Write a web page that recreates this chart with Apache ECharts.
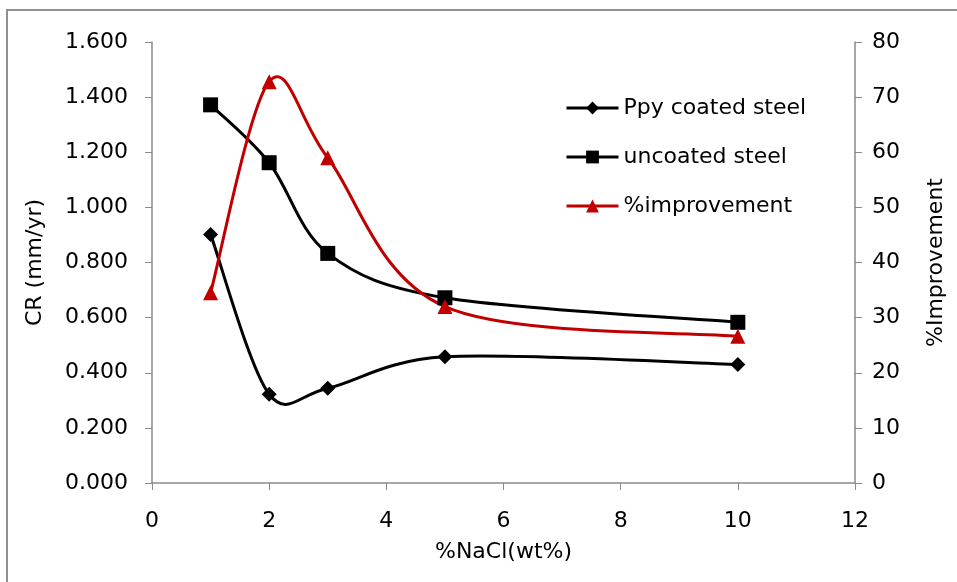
<!DOCTYPE html>
<html>
<head>
<meta charset="utf-8">
<script src="https://cdn.jsdelivr.net/npm/echarts@6/dist/echarts.min.js"></script>
<style>html,body{margin:0;padding:0;background:#fff}#c{width:957px;height:582px}</style>
</head>
<body>
<div id="c"></div>
<script>
var nacl = [1, 2, 3, 5, 10];
var ppyCoated = [0.902, 0.322, 0.344, 0.458, 0.430];
var uncoated = [1.372, 1.162, 0.833, 0.672, 0.583];
var improvement = [34.5, 72.8, 59.0, 32.0, 26.6];
var leftTicks = {min: 0, max: 1.6, interval: 0.2};
var rightTicks = {min: 0, max: 80, interval: 10};
var xTicks = {min: 0, max: 12, interval: 2};

function pairs(xs, ys) { return xs.map(function (x, i) { return [x, ys[i]]; }); }

// Excel-style smoothed curve, drawn segment by segment through the axes' scales
function smoothCurve(name, xs, ys, color, yAxisIndex) {
  return {
    name: name, type: 'custom', coordinateSystem: 'cartesian2d', yAxisIndex: yAxisIndex,
    silent: true, z: 1, data: pairs(xs, ys), encode: {x: 0, y: 1},
    renderItem: function (params, api) {
      var i = params.dataIndex, n = xs.length;
      if (i >= n - 1) return;
      function P(k) { k = Math.max(0, Math.min(n - 1, k)); return api.coord([xs[k], ys[k]]); }
      var p0 = P(i - 1), p1 = P(i), p2 = P(i + 1), p3 = P(i + 2);
      function d(a, b) { return Math.hypot(b[0] - a[0], b[1] - a[1]); }
      var d12 = d(p1, p2), d02 = d(p0, p2), d13 = d(p1, p3);
      var f = 1 / 6, g = 1 / 6;
      if (d02 > 0 && d02 / 6 > d12 / 2) f = d12 / (2 * d02);
      if (d13 > 0 && d13 / 6 > d12 / 2) g = d12 / (2 * d13);
      return {
        type: 'bezierCurve',
        shape: {
          x1: p1[0], y1: p1[1], x2: p2[0], y2: p2[1],
          cpx1: p1[0] + f * (p2[0] - p0[0]), cpy1: p1[1] + f * (p2[1] - p0[1]),
          cpx2: p2[0] - g * (p3[0] - p1[0]), cpy2: p2[1] - g * (p3[1] - p1[1])
        },
        style: {stroke: color, lineWidth: 3, fill: 'none', lineCap: 'round'}
      };
    }
  };
}

var font = 'DejaVu Sans';
var fs = 22;
var axisGray = '#8a8a8a';
var red = '#C00000';
var chart = echarts.init(document.getElementById('c'));
chart.setOption({
  animation: false,
  backgroundColor: '#fff',
  graphic: [{
    type: 'rect', shape: {x: 7, y: 10, width: 970, height: 600},
    style: {fill: 'none', stroke: '#8f8f8f', lineWidth: 2}, silent: true
  }],
  grid: {left: 152, right: 102, top: 42, bottom: 99, containLabel: false},
  legend: {
    orient: 'vertical', left: 565, top: 97, padding: 0, itemWidth: 52, itemHeight: 16, itemGap: 27,
    textStyle: {fontFamily: font, fontSize: fs, color: '#000'},
    data: [
      {name: 'Ppy coated steel', lineStyle: {opacity: 1, width: 3, color: '#000'}},
      {name: 'uncoated steel', lineStyle: {opacity: 1, width: 3, color: '#000'}},
      {name: '%improvement', lineStyle: {opacity: 1, width: 3, color: red}}
    ]
  },
  xAxis: {
    type: 'value', min: xTicks.min, max: xTicks.max, interval: xTicks.interval,
    name: '%NaCl(wt%)', nameLocation: 'middle', nameGap: 58,
    nameTextStyle: {fontFamily: font, fontSize: fs, color: '#000'},
    axisLine: {show: true, lineStyle: {color: axisGray, width: 1.5}},
    axisTick: {show: true, length: 7, lineStyle: {color: axisGray}},
    axisLabel: {fontFamily: font, fontSize: fs, color: '#000', margin: 27},
    splitLine: {show: false}
  },
  yAxis: [{
    type: 'value', min: leftTicks.min, max: leftTicks.max, interval: leftTicks.interval,
    name: 'CR (mm/yr)', nameLocation: 'middle', nameGap: 106, nameRotate: 90,
    nameTextStyle: {fontFamily: font, fontSize: fs, color: '#000'},
    axisLine: {show: true, lineStyle: {color: axisGray, width: 1.5}},
    axisTick: {show: true, length: 7, lineStyle: {color: axisGray}},
    axisLabel: {fontFamily: font, fontSize: fs, color: '#000', margin: 24,
      formatter: function (v) { return v.toFixed(3); }},
    splitLine: {show: false}
  }, {
    type: 'value', position: 'right', min: rightTicks.min, max: rightTicks.max, interval: rightTicks.interval,
    name: '%Improvement', nameLocation: 'middle', nameGap: 70, nameRotate: 90,
    nameTextStyle: {fontFamily: font, fontSize: fs, color: '#000'},
    axisLine: {show: true, lineStyle: {color: axisGray, width: 1.5}},
    axisTick: {show: true, length: 7, lineStyle: {color: axisGray}},
    axisLabel: {fontFamily: font, fontSize: fs, color: '#000', margin: 17},
    splitLine: {show: false}
  }],
  series: [
    smoothCurve('c1', nacl, ppyCoated, '#000', 0),
    smoothCurve('c2', nacl, uncoated, '#000', 0),
    smoothCurve('c3', nacl, improvement, red, 1),
    {
      name: 'Ppy coated steel', type: 'line', yAxisIndex: 0, z: 5,
      data: pairs(nacl, ppyCoated), symbol: 'diamond', symbolSize: 15,
      lineStyle: {color: '#000', width: 3, opacity: 0}, itemStyle: {color: '#000'}
    }, {
      name: 'uncoated steel', type: 'line', yAxisIndex: 0, z: 5,
      data: pairs(nacl, uncoated), symbol: 'rect', symbolSize: 15,
      lineStyle: {color: '#000', width: 3, opacity: 0}, itemStyle: {color: '#000'}
    }, {
      name: '%improvement', type: 'line', yAxisIndex: 1, z: 5,
      data: pairs(nacl, improvement), symbol: 'triangle', symbolSize: 15,
      lineStyle: {color: red, width: 3, opacity: 0}, itemStyle: {color: red}
    }
  ]
});
</script>
</body>
</html>
